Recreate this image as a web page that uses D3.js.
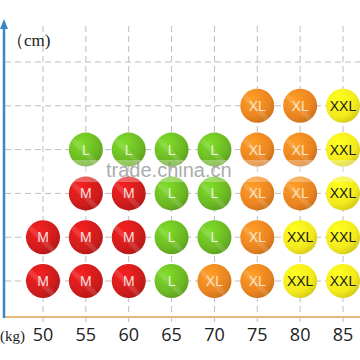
<!DOCTYPE html>
<html>
<head>
<meta charset="utf-8">
<script src="https://cdn.jsdelivr.net/npm/d3@7"></script>
<style>
  html, body { margin: 0; padding: 0; background: #fff; }
  svg { display: block; }
</style>
</head>
<body>
<div id="chart"></div>
<script>
// weight columns (kg) and unlabeled height rows (bottom to top)
var weights = [50, 55, 60, 65, 70, 75, 80, 85];
var heightRows = [1, 2, 3, 4, 5, 6];
// size per row, bottom row first, one entry per weight column
var sizeRows = [
  ["M", "M", "M", "L", "XL", "XL", "XXL", "XXL"],
  ["M", "M", "M", "L", "L", "XL", "XXL", "XXL"],
  [null, "M", "M", "L", "L", "XL", "XL", "XXL"],
  [null, "L", "L", "L", "L", "XL", "XL", "XXL"],
  [null, null, null, null, null, "XL", "XL", "XXL"],
  [null, null, null, null, null, null, null, null]
];
var sizeNames = ["M", "L", "XL", "XXL"];
var sizeColors = ["#cf1c1c", "#6cb923", "#ea8420", "#f3ea1c"];
var textColors = ["#f6dede", "#e8f5d8", "#fbe3c8", "#1a1a1a"];

var w = 360, h = 360;

var svg = d3.select("#chart").append("svg")
  .attr("width", w)
  .attr("height", h);

var x = d3.scaleLinear().domain([50, 85]).range([43, 343]);
var y = d3.scaleLinear().domain([1, 6]).range([281, 62]);
var color = d3.scaleOrdinal().domain(sizeNames).range(sizeColors);
var txtColor = d3.scaleOrdinal().domain(sizeNames).range(textColors);

// glossy gradients
var defs = svg.append("defs");
sizeNames.forEach(function(s) {
  var g = defs.append("radialGradient")
    .attr("id", "g-" + s)
    .attr("cx", "35%").attr("cy", "30%").attr("r", "75%");
  g.append("stop").attr("offset", "0%").attr("stop-color", d3.color(color(s)).brighter(0.5));
  g.append("stop").attr("offset", "70%").attr("stop-color", color(s));
  g.append("stop").attr("offset", "100%").attr("stop-color", d3.color(color(s)).darker(0.4));
});

// dashed grid
svg.append("g").selectAll("line.v")
  .data(weights)
  .enter().append("line")
  .attr("x1", function(d) { return x(d); })
  .attr("x2", function(d) { return x(d); })
  .attr("y1", 26).attr("y2", 326)
  .attr("stroke", "#bdbdbd")
  .attr("stroke-width", 1)
  .attr("stroke-dasharray", "6,4");

svg.append("g").selectAll("line.h")
  .data(heightRows)
  .enter().append("line")
  .attr("x1", 5).attr("x2", w)
  .attr("y1", function(d) { return y(d); })
  .attr("y2", function(d) { return y(d); })
  .attr("stroke", "#bdbdbd")
  .attr("stroke-width", 1)
  .attr("stroke-dasharray", "6,4");

// cells
var cells = [];
sizeRows.forEach(function(row, ri) {
  row.forEach(function(s, ci) {
    if (s) cells.push({ w: weights[ci], hgt: heightRows[ri], size: s });
  });
});

var dots = svg.append("g").selectAll("g.dot")
  .data(cells)
  .enter().append("g")
  .attr("transform", function(d) { return "translate(" + x(d.w) + "," + y(d.hgt) + ")"; });

dots.append("circle")
  .attr("r", 17)
  .attr("fill", function(d) { return "url(#g-" + d.size + ")"; });

// diagonal sheen
dots.filter(function(d) { return d.size != "XXL"; })
  .append("path")
  .attr("d", "M-12,-12 L12,12 L8,15 L-15,-8 Z")
  .attr("fill", "#fff")
  .attr("opacity", 0.12);

dots.append("text")
  .attr("text-anchor", "middle")
  .attr("dy", "0.36em")
  .attr("font-family", "Arial, 'Liberation Sans', sans-serif")
  .attr("font-size", 14)
  .attr("fill", function(d) { return txtColor(d.size); })
  .text(function(d) { return d.size; });

// watermark band, between the two rows of labels
svg.append("rect")
  .attr("x", 0).attr("y", 160).attr("width", w).attr("height", 22)
  .attr("fill", "#fff").attr("opacity", 0.3);
svg.append("text")
  .attr("x", 106).attr("y", 177)
  .attr("font-family", "Arial, 'Liberation Sans', sans-serif")
  .attr("font-size", 20)
  .attr("fill", "#8a8a8a")
  .attr("opacity", 0.7)
  .text("trade.china.cn");

// axes
svg.append("line")
  .attr("x1", 3).attr("x2", w)
  .attr("y1", 317).attr("y2", 317)
  .attr("stroke", "#e6b77e").attr("stroke-width", 2);

svg.append("line")
  .attr("x1", 4).attr("x2", 4)
  .attr("y1", 318).attr("y2", 26)
  .attr("stroke", "#3b87c2").attr("stroke-width", 2.5);
svg.append("path")
  .attr("d", "M4,19 L0,29 L8,29 Z")
  .attr("fill", "#3b87c2");

// x tick labels
svg.append("g").selectAll("text")
  .data(weights)
  .enter().append("text")
  .attr("x", function(d) { return x(d); })
  .attr("y", 341)
  .attr("text-anchor", "middle")
  .attr("font-family", "'Open Sans', 'DejaVu Sans', sans-serif")
  .attr("font-size", 18)
  .attr("fill", "#222")
  .text(function(d) { return d; });

svg.append("text")
  .attr("x", 0).attr("y", 341)
  .attr("font-family", "'Liberation Serif', serif")
  .attr("font-size", 15)
  .attr("fill", "#222")
  .text("(kg)");

svg.append("text")
  .attr("x", 7).attr("y", 46)
  .attr("font-family", "'Liberation Serif', serif")
  .attr("font-size", 17)
  .attr("fill", "#222")
  .text("（cm)");
</script>
</body>
</html>
